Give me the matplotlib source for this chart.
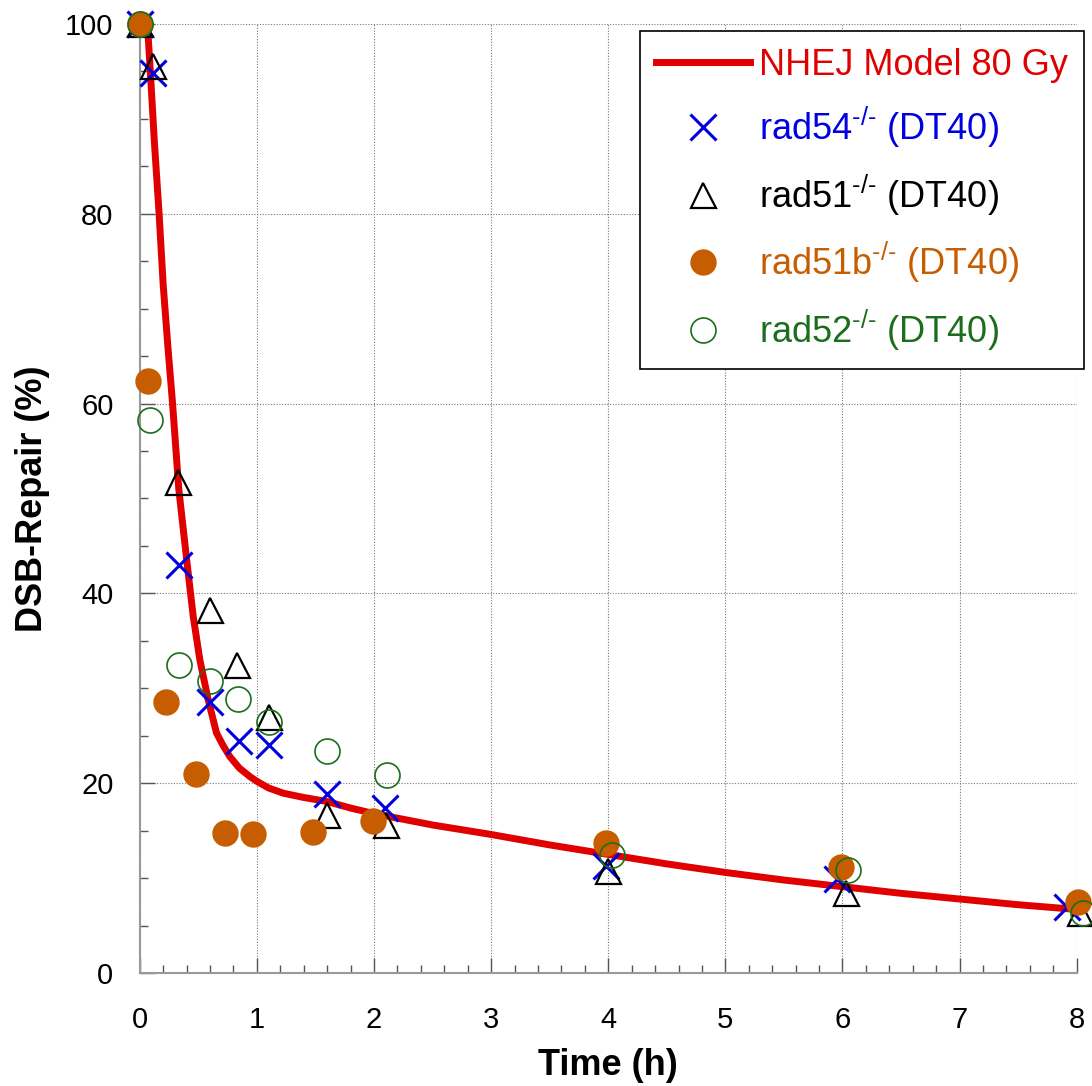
import matplotlib
matplotlib.use("Agg")
import matplotlib.pyplot as plt
from matplotlib.ticker import MultipleLocator

plt.rcParams['font.family'] = ['Liberation Sans', 'DejaVu Sans']
plt.rcParams['mathtext.fontset'] = 'custom'
plt.rcParams['mathtext.rm'] = 'Liberation Sans'
plt.rcParams['mathtext.it'] = 'Liberation Sans'

# NHEJ model curve
model_t = [0, 0.04, 0.07, 0.09, 0.125, 0.165, 0.2, 0.24, 0.28, 0.333, 0.4, 0.456,
           0.513, 0.584, 0.655, 0.71, 0.769, 0.85, 0.94, 1.0, 1.1, 1.225, 1.4, 1.6,
           1.795, 2.0, 2.5, 3.0, 3.5, 4.0, 4.5, 5.0, 5.5, 6.0, 6.5, 7.0, 7.5, 8.0]
model_y = [100, 99.8, 99, 95, 87.5, 80, 72.5, 66, 60, 51, 43.6, 37.6,
           33.0, 28.8, 25.3, 24.0, 22.8, 21.6, 20.7, 20.2, 19.5, 18.95, 18.5, 18.07,
           17.4, 16.8, 15.6, 14.6, 13.5, 12.5, 11.5, 10.6, 9.8, 9.1, 8.4, 7.8, 7.2, 6.7]

rad54_t = [0, 0.11, 0.336, 0.60, 0.85, 1.10, 1.60, 2.09, 3.98, 5.95, 7.92]
rad54_y = [100, 94.8, 43.0, 28.6, 24.4, 24.05, 18.85, 17.4, 11.3, 9.9, 7.0]

rad51_t = [0, 0.11, 0.33, 0.60, 0.83, 1.10, 1.60, 2.10, 4.0, 6.03, 8.03]
rad51_y = [100, 95.6, 51.7, 38.3, 32.5, 27.0, 16.7, 15.6, 10.8, 8.4, 6.3]

rad51b_t = [0, 0.07, 0.22, 0.48, 0.73, 0.97, 1.48, 1.99, 3.98, 5.99, 8.01]
rad51b_y = [100, 62.4, 28.6, 21.0, 14.8, 14.7, 14.9, 16.0, 13.7, 11.2, 7.5]

rad52_t = [0, 0.085, 0.333, 0.60, 0.84, 1.10, 1.60, 2.11, 4.03, 6.05, 8.05]
rad52_y = [100, 58.3, 32.5, 30.8, 28.9, 26.5, 23.4, 20.9, 12.4, 10.9, 6.3]

red = '#e00000'
blue = '#0000e0'
orange = '#c65d00'
green = '#1b6e1b'

fig = plt.figure(figsize=(10.92, 10.86), dpi=100)
ax = fig.add_axes([0.128, 0.104, 0.858, 0.874])

ax.plot(model_t, model_y, '-', color=red, lw=5, clip_on=False, zorder=3,
        solid_joinstyle='round', label='NHEJ Model 80 Gy')
ax.plot(rad54_t, rad54_y, 'x', color=blue, ms=19, mew=2.2, clip_on=False, zorder=4,
        label=r'rad54$^{\text{-/-}}$ (DT40)')
ax.plot(rad51_t, rad51_y, '^', mfc='none', mec='black', ms=18, mew=1.6, clip_on=False,
        zorder=4, label=r'rad51$^{\text{-/-}}$ (DT40)')
ax.plot(rad51b_t, rad51b_y, 'o', color=orange, ms=19, mew=0, clip_on=False, zorder=4,
        label=r'rad51b$^{\text{-/-}}$ (DT40)')
ax.plot(rad52_t, rad52_y, 'o', mfc='none', mec=green, ms=18, mew=1.2, clip_on=False,
        zorder=5, label=r'rad52$^{\text{-/-}}$ (DT40)')

ax.set_xlim(0, 8)
ax.set_ylim(0, 100)
ax.xaxis.set_major_locator(MultipleLocator(1))
ax.xaxis.set_minor_locator(MultipleLocator(0.2))
ax.yaxis.set_major_locator(MultipleLocator(20))
ax.yaxis.set_minor_locator(MultipleLocator(5))

ax.grid(True, which='major', color='#777777', linestyle=(0, (1, 1.5)), lw=0.8)
for s in ['top', 'right']:
    ax.spines[s].set_visible(False)
for s in ['left', 'bottom']:
    ax.spines[s].set_color('#999999')
    ax.spines[s].set_linewidth(1.5)

ax.tick_params(which='major', direction='in', length=11, width=1, color='#555555',
               labelsize=21)
ax.tick_params(which='minor', direction='in', length=6, width=1, color='#555555')
ax.tick_params(axis='x', which='major', pad=24)
ax.tick_params(axis='y', which='major', pad=19)

ax.set_xlabel('Time (h)', fontsize=26, fontweight='bold', labelpad=10)
ax.set_ylabel('DSB-Repair (%)', fontsize=26, fontweight='bold', labelpad=11)

leg = ax.legend(loc='upper right', bbox_to_anchor=(1.0078, 0.992), fontsize=26,
                frameon=True, fancybox=False, edgecolor='black', framealpha=1,
                handlelength=2.6, handletextpad=0.25, labelspacing=0.62,
                borderpad=0.45, borderaxespad=0)
leg.get_frame().set_linewidth(1.2)
for txt, c in zip(leg.get_texts(), [red, blue, 'black', orange, green]):
    txt.set_color(c)

fig.savefig('out.png', dpi=100)
